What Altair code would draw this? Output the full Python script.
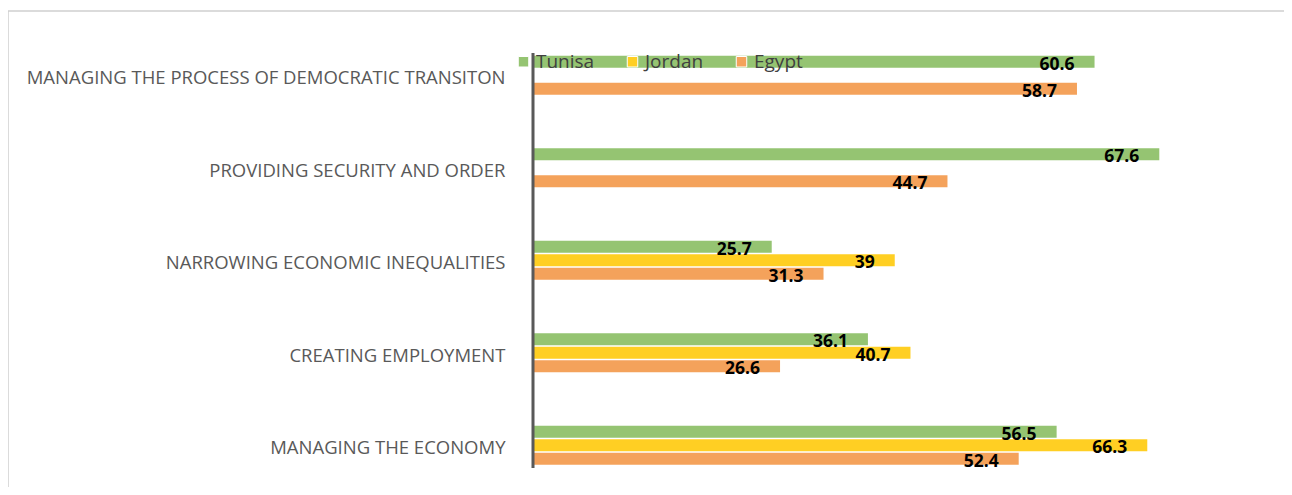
import altair as alt
import pandas as pd

categories = [
    "MANAGING THE PROCESS OF DEMOCRATIC TRANSITON",
    "PROVIDING SECURITY AND ORDER",
    "NARROWING ECONOMIC INEQUALITIES",
    "CREATING EMPLOYMENT",
    "MANAGING THE ECONOMY",
]
series = ["Tunisa", "Jordan", "Egypt"]
tunisa = [60.6, 67.6, 25.7, 36.1, 56.5]
jordan = [None, None, 39, 40.7, 66.3]
egypt = [58.7, 44.7, 31.3, 26.6, 52.4]
colors = ["#95C472", "#FFCF23", "#F4A25B"]

rows = []
for s, vals in zip(series, [tunisa, jordan, egypt]):
    for c, v in zip(categories, vals):
        if v is not None:
            rows.append({"category": c, "series": s, "value": v, "label": f"{v:g}"})
df = pd.DataFrame(rows)

W, H = 740, 440

y = alt.Y(
    "category:N",
    sort=categories,
    scale=alt.Scale(range=[0, 462.5], paddingInner=0.578, paddingOuter=0.289),
    axis=alt.Axis(
        title=None, domain=False, ticks=False, labelPadding=29,
        labelFont="Open Sans", labelFontSize=18.5, labelColor="#595959",
        labelLimit=520, labelOffset=3,
    ),
)
yoff = alt.YOffset(
    "series:N", sort=series,
    scale=alt.Scale(domain=series, paddingInner=0.115, paddingOuter=0),
)
x = alt.X("value:Q", scale=alt.Scale(domain=[0, 80], nice=False), axis=None)

base = alt.Chart(df)

bars = base.mark_bar().encode(
    x=x, y=y, yOffset=yoff,
    color=alt.Color(
        "series:N",
        scale=alt.Scale(domain=series, range=colors),
        legend=alt.Legend(
            title=None, orient="none", legendX=-20, legendY=23,
            direction="horizontal", symbolType="square", symbolSize=110,
            symbolStrokeColor="white", symbolStrokeWidth=1,
            labelFont="Open Sans", labelFontSize=19, labelColor="#404040",
            labelOffset=3, columnPadding=28, padding=0,
        ),
    ),
)

text = base.mark_text(
    align="right", dx=-20, dy=3, fontWeight="bold", fontSize=17.5,
    font="Open Sans", color="black",
).encode(x=x, y=y, yOffset=yoff, text="label:N")

one = pd.DataFrame({"a": [0]})
axis_line = alt.Chart(one).mark_rule(color="#595959", strokeWidth=3).encode(
    x=alt.value(-1), y=alt.value(24), y2=alt.value(439)
)
border = alt.Chart(one).mark_rect(
    fillOpacity=0, stroke="#D0D0D0", strokeWidth=1.5
).encode(
    x=alt.value(-526), x2=alt.value(800), y=alt.value(-18), y2=alt.value(520)
)

chart = (
    alt.layer(border, bars, text, axis_line)
    .properties(
        width=W, height=H,
        padding={"left": 526, "top": 21, "right": 10, "bottom": 18},
        autosize=alt.AutoSizeParams(type="none"),
    )
    .configure_view(stroke=None)
)

chart.save("out.html", embed_options={"renderer": "svg", "actions": False})
